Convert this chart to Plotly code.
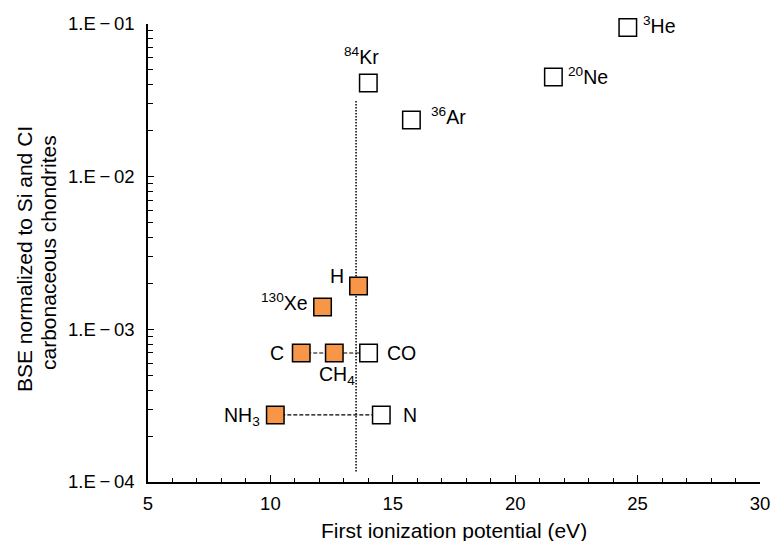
import math
import plotly.graph_objects as go

# First ionization potential (eV) and BSE abundance normalized to Si and CI chondrites
open_species = ["<sup>3</sup>He", "<sup>20</sup>Ne", "<sup>84</sup>Kr", "<sup>36</sup>Ar", "CO", "N"]
open_ip = [24.6, 21.56, 14.0, 15.76, 14.01, 14.53]
open_val = [0.095, 0.045, 0.041, 0.0235, 0.0007, 0.000275]

filled_species = ["H", "<sup>130</sup>Xe", "C", "CH<sub>4</sub>", "NH<sub>3</sub>"]
filled_ip = [13.6, 12.13, 11.26, 12.61, 10.2]
filled_val = [0.00192, 0.0014, 0.0007, 0.0007, 0.000275]

# Tie lines between related species
carbon_ip = [11.26, 12.61, 14.01]
carbon_val = [0.0007, 0.0007, 0.0007]
nitrogen_ip = [10.2, 14.53]
nitrogen_val = [0.000275, 0.000275]

# Vertical reference at 13.5 eV
ref_ip = [13.5, 13.5]
ref_val = [0.0313, 0.000116]

x_ticks = [5, 10, 15, 20, 25, 30]
y_ticks = [1e-4, 1e-3, 1e-2, 1e-1]
y_ticktext = ["1.E\u2009\u2212\u200904", "1.E\u2009\u2212\u200903",
              "1.E\u2009\u2212\u200902", "1.E\u2009\u2212\u200901"]

x_title = "First ionization potential (eV)"
y_title_lines = ["BSE normalized to Si and CI", "carbonaceous chondrites"]

# Label placement: (x shift px, y shift px, anchor)
label_offsets = {
    "<sup>3</sup>He": (13, 2, "left"),
    "<sup>20</sup>Ne": (13, 1, "left"),
    "<sup>84</sup>Kr": (-7, 27, "center"),
    "<sup>36</sup>Ar": (18, 4, "left"),
    "CO": (16, 0, "left"),
    "N": (20, 0, "left"),
    "H": (-13, 10, "right"),
    "<sup>130</sup>Xe": (-13, 5, "right"),
    "C": (-15, 0, "right"),
    "CH<sub>4</sub>": (3, -23, "center"),
    "NH<sub>3</sub>": (-13, -2, "right"),
}

orange = "#F79646"
font_family = "Liberation Sans, Arial, Helvetica, sans-serif"
label_size = 19.5
tick_size = 18.5
title_size = 21

fig = go.Figure()

fig.add_trace(go.Scatter(x=ref_ip, y=ref_val, mode="lines",
                         line=dict(color="black", width=1.5, dash="1.5px,1.5px"),
                         hoverinfo="skip", showlegend=False))
fig.add_trace(go.Scatter(x=carbon_ip, y=carbon_val, mode="lines",
                         line=dict(color="black", width=1.2, dash="4px,2px"),
                         hoverinfo="skip", showlegend=False))
fig.add_trace(go.Scatter(x=nitrogen_ip, y=nitrogen_val, mode="lines",
                         line=dict(color="black", width=1.2, dash="4px,2px"),
                         hoverinfo="skip", showlegend=False))

marker_common = dict(symbol="square", size=17.5, line=dict(color="black", width=1.5))
fig.add_trace(go.Scatter(x=open_ip, y=open_val, mode="markers", cliponaxis=False,
                         marker=dict(color="white", **marker_common),
                         showlegend=False))
fig.add_trace(go.Scatter(x=filled_ip, y=filled_val, mode="markers", cliponaxis=False,
                         marker=dict(color=orange, **marker_common),
                         showlegend=False))

for names, xs, ys in ((open_species, open_ip, open_val),
                      (filled_species, filled_ip, filled_val)):
    for name, x, y in zip(names, xs, ys):
        dx, dy, anchor = label_offsets[name]
        # annotations on a log axis take log10 coordinates
        fig.add_annotation(x=x, y=math.log10(y), xref="x", yref="y",
                           text=name, showarrow=False,
                           xanchor=anchor, yanchor="middle",
                           xshift=dx, yshift=dy,
                           font=dict(size=label_size, color="black", family=font_family))

# Axis titles
fig.add_annotation(x=0.5, y=0, xref="paper", yref="paper", text=x_title,
                   showarrow=False, xanchor="center", yanchor="middle", yshift=-48,
                   font=dict(size=title_size, color="black", family=font_family))
y_title_shift = [(-124, -6), (-100, 0)]
for line, (dx, dy) in zip(y_title_lines, y_title_shift):
    fig.add_annotation(x=0, y=0.5, xref="paper", yref="paper", text=line,
                       showarrow=False, textangle=-90,
                       xanchor="center", yanchor="middle", xshift=dx, yshift=dy,
                       font=dict(size=title_size, color="black", family=font_family))

fig.update_layout(
    width=773, height=541,
    margin=dict(l=148, r=13, t=24, b=59),
    paper_bgcolor="white", plot_bgcolor="white",
    font=dict(family=font_family, size=16, color="black"),
)

fig.update_xaxes(
    range=[5, 30], tickvals=x_ticks, automargin=False,
    showline=True, linecolor="black", linewidth=1.5,
    ticks="inside", ticklen=7, tickwidth=1.2, tickcolor="black",
    minor=dict(tickvals=list(range(6, 30)), ticks="inside", ticklen=4,
               tickwidth=1.2, tickcolor="black"),
    showgrid=False, zeroline=False,
    tickfont=dict(size=tick_size), ticklabelstandoff=4,
)

y_minor = [m * 10.0 ** e for e in (-4, -3, -2) for m in range(2, 10)]
fig.update_yaxes(
    type="log", range=[-4, -1], automargin=False,
    tickvals=y_ticks, ticktext=y_ticktext,
    showline=True, linecolor="black", linewidth=1.5,
    ticks="inside", ticklen=6, tickwidth=1.2, tickcolor="black",
    minor=dict(tickvals=y_minor, ticks="inside", ticklen=5,
               tickwidth=1.2, tickcolor="black"),
    showgrid=False, zeroline=False,
    tickfont=dict(size=tick_size), ticklabelstandoff=8,
)

fig.write_html("out.html")
